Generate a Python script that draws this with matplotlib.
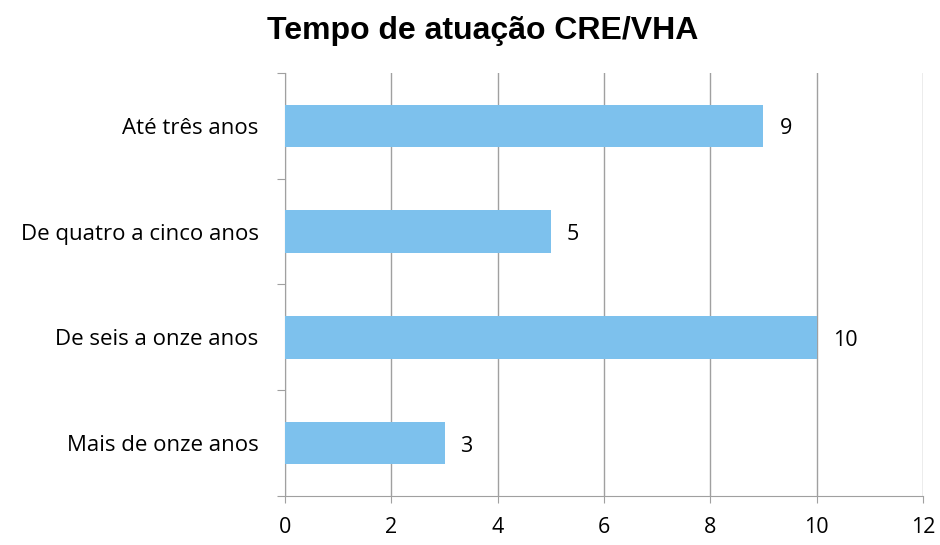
import numpy as np
from matplotlib import pyplot as plt

categorias = ['Até três anos', 'De quatro a cinco anos', 'De seis a onze anos', 'Mais de onze anos']
valores = [9, 5, 10, 3]
ticks_x = [0, 2, 4, 6, 8, 10, 12]

plt.rcParams['font.family'] = ['Open Sans', 'DejaVu Sans']

fig = plt.figure(figsize=(9.4, 5.45), dpi=100)
ax = fig.add_axes([0.3032, 0.0899, 0.6787, 0.7763])

y = np.arange(len(categorias))
ax.barh(y, valores, height=0.4, color='#7DC1ED', zorder=3)

for yi, v in zip(y, valores):
    ax.text(v + 0.3, yi + 0.03, str(v), va='center', ha='left', fontsize=15.5)

ax.set_xlim(0, 12)
ax.set_ylim(len(categorias) - 0.5, -0.5)
ax.set_xticks(ticks_x)
ax.set_xticklabels([str(t) for t in ticks_x], fontsize=15.5)
ax.tick_params(axis='x', length=5, color='#a0a0a0', pad=10)

# categorias: tiques nas fronteiras, rotulos no meio
ax.set_yticks(np.arange(-0.5, len(categorias), 1))
ax.set_yticklabels([])
ax.set_yticks(y, minor=True)
ax.set_yticklabels(categorias, minor=True, fontsize=16)
ax.tick_params(axis='y', which='major', length=6, color='#a0a0a0')
ax.tick_params(axis='y', which='minor', length=0, pad=19)

ax.grid(axis='x', color='#a0a0a0', linewidth=1, zorder=0)
for s in ['top', 'right']:
    ax.spines[s].set_visible(False)
for s in ['left', 'bottom']:
    ax.spines[s].set_color('#a0a0a0')

fig.suptitle('Tempo de atuação CRE/VHA', x=0.513, y=0.97, fontsize=23,
             fontweight='bold', family='Liberation Sans')

plt.savefig('out.png', dpi=100)
